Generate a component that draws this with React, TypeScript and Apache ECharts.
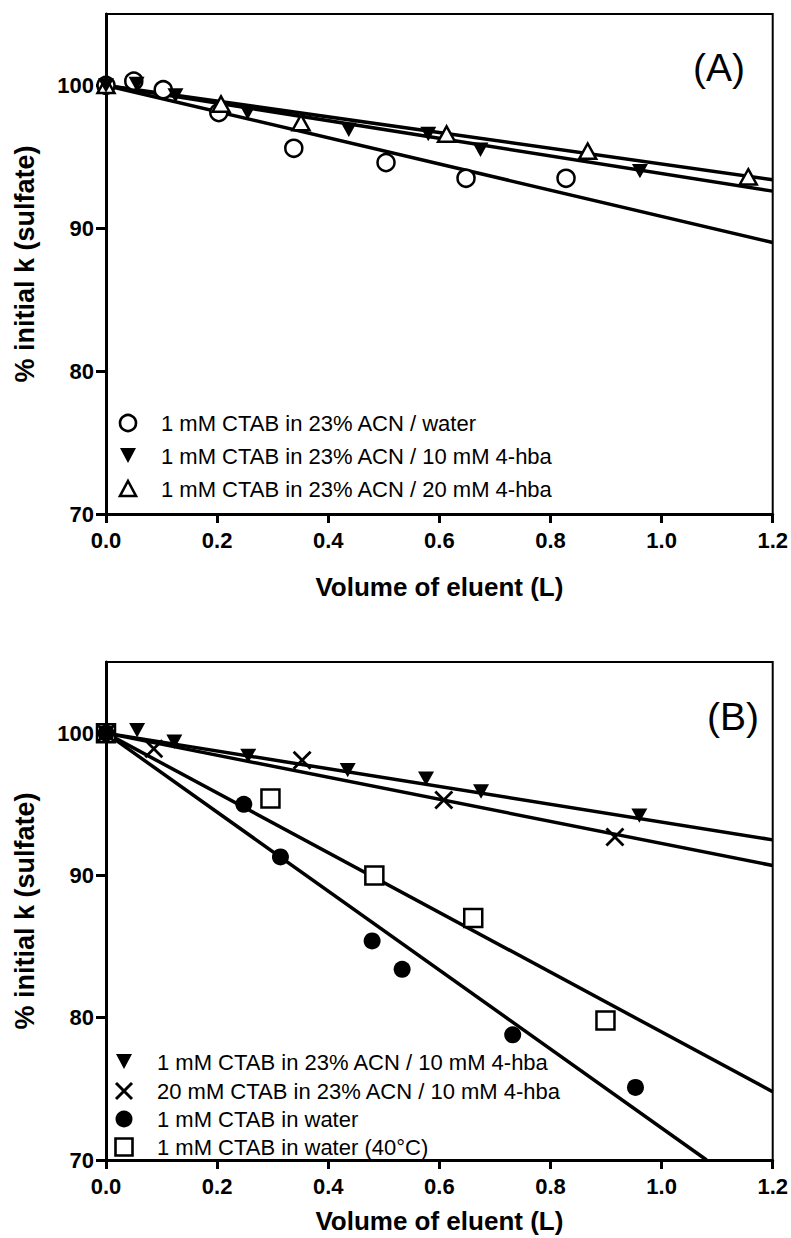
import React, { useEffect, useRef } from "react";
import * as echarts from "echarts";

// ---------- Data (panel A) ----------
const waterA_x = [0, 0.05, 0.103, 0.203, 0.338, 0.504, 0.648, 0.828];
const waterA_y = [100, 100.3, 99.7, 98.1, 95.6, 94.6, 93.5, 93.5];
const hba10A_x = [0, 0.055, 0.125, 0.255, 0.437, 0.58, 0.674, 0.961];
const hba10A_y = [100, 100.1, 99.3, 98.1, 96.9, 96.6, 95.5, 94.0];
const hba20A_x = [0, 0.207, 0.351, 0.613, 0.867, 1.156];
const hba20A_y = [100, 98.7, 97.4, 96.6, 95.4, 93.6];
const fitWaterA = [[0, 100], [1.2, 89.0]];
const fitHba10A = [[0, 100], [1.2, 92.6]];
const fitHba20A = [[0, 100], [1.2, 93.4]];

// ---------- Data (panel B) ----------
const hba10B_x = [0, 0.056, 0.123, 0.256, 0.435, 0.576, 0.675, 0.96];
const hba10B_y = [100, 100.2, 99.4, 98.4, 97.4, 96.8, 95.9, 94.2];
const ctab20B_x = [0, 0.086, 0.353, 0.608, 0.916];
const ctab20B_y = [100, 98.9, 98.1, 95.3, 92.7];
const waterB_x = [0, 0.248, 0.314, 0.479, 0.533, 0.732, 0.953];
const waterB_y = [100, 95.0, 91.3, 85.4, 83.4, 78.8, 75.1];
const water40B_x = [0, 0.296, 0.483, 0.661, 0.899];
const water40B_y = [100, 95.4, 90.0, 87.0, 79.8];
const fitHba10B = [[0, 100], [1.2, 92.5]];
const fitCtab20B = [[0, 100], [1.2, 90.7]];
const fitWaterB = [[0, 100], [1.081, 70]];
const fitWater40B = [[0, 100], [1.2, 74.8]];

// ---------- Labels ----------
const yTicks = [70, 80, 90, 100];
const xTitle = "Volume of eluent (L)";
const yTitle = "% initial k (sulfate)";
const namesA = [
  "1 mM CTAB in 23% ACN / water",
  "1 mM CTAB in 23% ACN / 10 mM 4-hba",
  "1 mM CTAB in 23% ACN / 20 mM 4-hba",
];
const namesB = [
  "1 mM CTAB in 23% ACN / 10 mM 4-hba",
  "20 mM CTAB in 23% ACN / 10 mM 4-hba",
  "1 mM CTAB in water",
  "1 mM CTAB in water (40\u00B0C)",
];

const zip = (xs: number[], ys: number[]) => xs.map((x, i) => [x, ys[i]]);

const FONT = "'Liberation Sans', Arial, Helvetica, sans-serif";
const DOWN_TRI = "path://M0,0L10,0L5,9Z";
const UP_TRI = "path://M5,0L10,9L0,9Z";
const SQUARE = "path://M0,0L10,0L10,10L0,10Z";
const CROSS = "path://M0,0L10,10M10,0L0,10";

function makeAxes(gridIndex: number, xNameGap: number) {
  const x = {
    type: "value",
    gridIndex,
    min: 0,
    max: 1.2,
    interval: 0.2,
    name: xTitle,
    nameLocation: "middle",
    nameGap: xNameGap,
    nameTextStyle: { fontFamily: FONT, fontWeight: "bold", fontSize: 26, color: "#000" },
    axisLine: { lineStyle: { color: "#000", width: 3 } },
    axisTick: { show: true, length: 9, lineStyle: { color: "#000", width: 3 } },
    axisLabel: {
      fontFamily: FONT,
      fontWeight: "bold",
      fontSize: 22,
      color: "#000",
      margin: 15,
      formatter: (v: number) => v.toFixed(1),
    },
    splitLine: { show: false },
  };
  const y = {
    type: "value",
    gridIndex,
    min: 70,
    max: 105,
    interval: 10,
    name: yTitle,
    nameLocation: "middle",
    nameGap: 68,
    nameTextStyle: { fontFamily: FONT, fontWeight: "bold", fontSize: 27, color: "#000" },
    axisLine: { lineStyle: { color: "#000", width: 3 } },
    axisTick: { show: true, length: 10, customValues: yTicks, lineStyle: { color: "#000", width: 3 } },
    axisLabel: {
      fontFamily: FONT,
      fontWeight: "bold",
      fontSize: 22,
      color: "#000",
      margin: 12,
      customValues: yTicks,
    },
    splitLine: { show: false },
  };
  return { x, y };
}

function scatter(name: string, idx: number, data: number[][], symbol: string, size: any, style: any, z = 5) {
  return {
    type: "scatter",
    name,
    xAxisIndex: idx,
    yAxisIndex: idx,
    data,
    symbol,
    symbolSize: size,
    symbolKeepAspect: true,
    itemStyle: { ...style, opacity: 1 },
    emphasis: { disabled: true },
    z,
  };
}

function fit(idx: number, data: number[][]) {
  return {
    type: "line",
    xAxisIndex: idx,
    yAxisIndex: idx,
    data,
    showSymbol: false,
    symbol: "none",
    lineStyle: { color: "#000", width: 3.5 },
    z: 3,
    silent: true,
  };
}

const openStyle = { color: "#fff", borderColor: "#000", borderWidth: 2.5 };
const filledStyle = { color: "#000", borderColor: "#000", borderWidth: 0 };
const crossStyle = { color: "transparent", borderColor: "#000", borderWidth: 2.8 };

// ---------- legend icons drawn as graphic elements ----------
type Icon = "openCircle" | "filledCircle" | "downTri" | "upTri" | "cross" | "openSquare";

function icon(kind: Icon, cx: number, cy: number): any {
  const stroke = { stroke: "#000", lineWidth: 2.6 };
  switch (kind) {
    case "openCircle":
      return { type: "circle", shape: { cx, cy, r: 8 }, style: { fill: "#fff", ...stroke } };
    case "filledCircle":
      return { type: "circle", shape: { cx, cy, r: 8.5 }, style: { fill: "#000" } };
    case "downTri":
      return { type: "polygon", shape: { points: [[cx - 8, cy - 8], [cx + 8, cy - 8], [cx, cy + 7]] }, style: { fill: "#000" } };
    case "upTri":
      return { type: "polygon", shape: { points: [[cx, cy - 8], [cx + 8, cy + 7], [cx - 8, cy + 7]] }, style: { fill: "#fff", ...stroke } };
    case "cross":
      return {
        type: "group",
        children: [
          { type: "line", shape: { x1: cx - 8, y1: cy - 8, x2: cx + 8, y2: cy + 8 }, style: { ...stroke, lineWidth: 3 } },
          { type: "line", shape: { x1: cx + 8, y1: cy - 8, x2: cx - 8, y2: cy + 8 }, style: { ...stroke, lineWidth: 3 } },
        ],
      };
    case "openSquare":
      return { type: "rect", shape: { x: cx - 8.5, y: cy - 8.5, width: 17, height: 17 }, style: { fill: "#fff", ...stroke } };
  }
}

function legendGraphic(names: string[], icons: Icon[], iconX: number, textX: number, rows: number[]) {
  const out: any[] = [];
  names.forEach((n, i) => {
    out.push(icon(icons[i], iconX, rows[i]));
    out.push({
      type: "text",
      x: textX,
      y: rows[i],
      style: { text: n, font: `22px ${FONT}`, fill: "#000", textVerticalAlign: "middle", textAlign: "left" },
    });
  });
  return out;
}

export default function App() {
  const ref = useRef<HTMLDivElement>(null);
  useEffect(() => {
    document.body.style.margin = "0";
    if (!ref.current) return;
    const chart = echarts.init(ref.current, undefined, { renderer: "svg" });
    const a = makeAxes(0, 60);
    const b = makeAxes(1, 48);
    const option: any = {
      animation: false,
      backgroundColor: "#fff",
      grid: [
        { left: 106, right: 17, top: 14, height: 500, show: true, borderColor: "#000", borderWidth: 2, backgroundColor: "transparent" },
        { left: 106, right: 17, top: 662, height: 498, show: true, borderColor: "#000", borderWidth: 2, backgroundColor: "transparent" },
      ],
      xAxis: [a.x, b.x],
      yAxis: [a.y, b.y],
      graphic: [
        { type: "text", left: 693, top: 48, style: { text: "(A)", font: `39px ${FONT}`, fill: "#000" } },
        { type: "text", left: 707, top: 697, style: { text: "(B)", font: `39px ${FONT}`, fill: "#000" } },
        ...legendGraphic(namesA, ["openCircle", "downTri", "upTri"], 128, 161, [423, 456, 489]),
        ...legendGraphic(namesB, ["downTri", "cross", "filledCircle", "openSquare"], 124, 157, [1062, 1091, 1119, 1147]),
      ],
      series: [
        fit(0, fitWaterA),
        fit(0, fitHba10A),
        fit(0, fitHba20A),
        scatter(namesA[0], 0, zip(waterA_x, waterA_y), "circle", 17, openStyle, 5),
        scatter(namesA[2], 0, zip(hba20A_x, hba20A_y), UP_TRI, 17, openStyle, 6),
        scatter(namesA[1], 0, zip(hba10A_x, hba10A_y), DOWN_TRI, 16, filledStyle, 7),
        fit(1, fitHba10B),
        fit(1, fitCtab20B),
        fit(1, fitWaterB),
        fit(1, fitWater40B),
        scatter(namesB[3], 1, zip(water40B_x, water40B_y), SQUARE, 18, openStyle, 5),
        scatter(namesB[1], 1, zip(ctab20B_x, ctab20B_y), CROSS, 17, crossStyle, 6),
        scatter(namesB[2], 1, zip(waterB_x, waterB_y), "circle", 17, filledStyle, 7),
        scatter(namesB[0], 1, zip(hba10B_x, hba10B_y), DOWN_TRI, 16, filledStyle, 8),
      ],
    };
    chart.setOption(option);
    return () => chart.dispose();
  }, []);
  return <div ref={ref} style={{ width: 791, height: 1238 }} />;
}
